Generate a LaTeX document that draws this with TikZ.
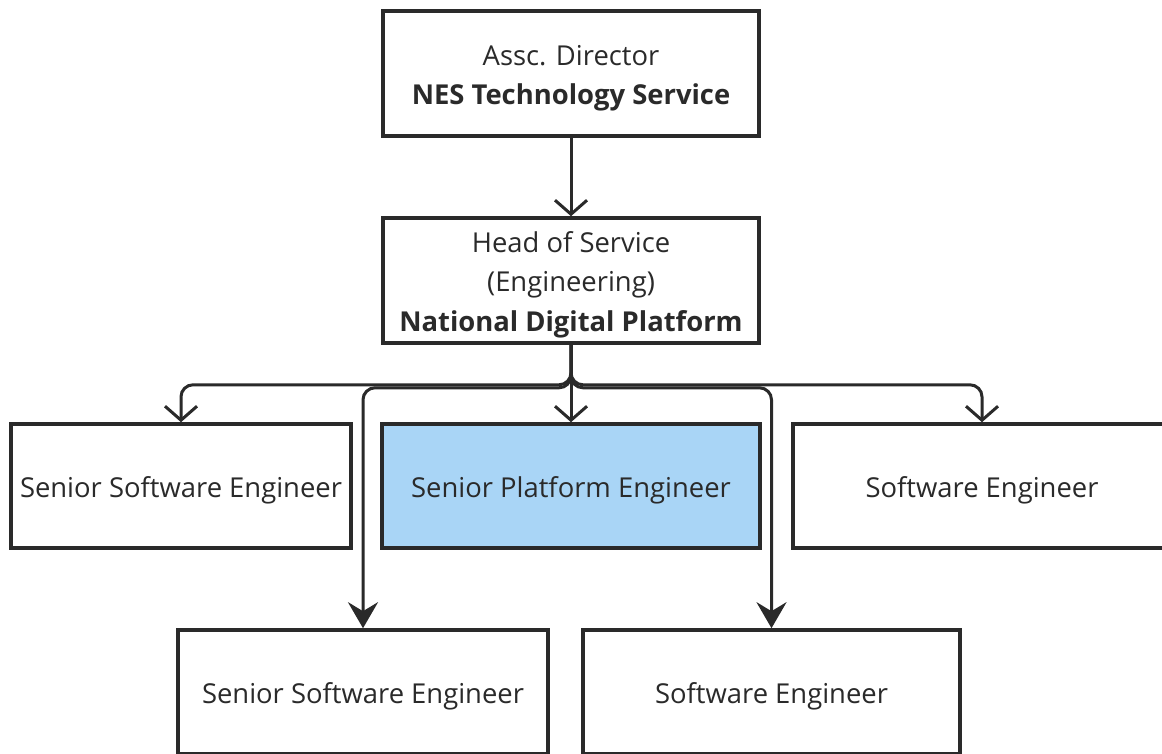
\documentclass[tikz,border=0pt]{standalone}
\usepackage{fontspec}
\setmainfont{Open Sans}
\usetikzlibrary{arrows.meta}
\definecolor{ln}{HTML}{2A2A2A}
\definecolor{hl}{HTML}{A9D5F6}
\tikzset{
  box/.style={draw=ln, line width=3.6pt, minimum height=124pt, inner sep=0pt},
  txt/.style={inner sep=0pt, align=center, text=ln, font=\fontsize{27.4}{39.5}\selectfont},
  conn/.style={draw=ln, line width=3pt, rounded corners=12pt, -{Straight Barb[length=14pt,width=32pt,line width=3pt]}},
  connf/.style={draw=ln, line width=3pt, rounded corners=12pt, -{Stealth[length=26pt,width=30pt,inset=9pt]}}
}
\begin{document}
\begin{tikzpicture}[x=1pt,y=-1pt]
\useasboundingbox (0,0) rectangle (1162,754);
\clip (0,0) rectangle (1162,754);
\fill[white] (0,0) rectangle (1162,754);
\node[box, minimum width=376pt, minimum height=125pt] (top) at (571,73.5) {};
\node[box, minimum width=376pt, minimum height=125pt] (head) at (571,280.5) {};
\node[box, minimum width=340pt] (s1) at (181,486) {};
\node[box, minimum width=378pt, fill=hl] (p) at (571,486) {};
\node[box, minimum width=378pt] (sw1) at (982,486) {};
\node[box, minimum width=370pt] (b1) at (363,692) {};
\node[box, minimum width=377pt] (b2) at (771.5,692) {};
\node[txt] (toptxt) at ([yshift=-4.5pt]top.center) {Assc. Director\\\textbf{NES Technology Service}};
\node[txt] (headtxt) at ([yshift=-4pt]head.center) {Head of Service\\(Engineering)\\\textbf{National Digital Platform}};
\node[txt] (s1txt) at ([yshift=-4pt]s1.center) {Senior Software Engineer};
\node[txt] (ptxt) at ([yshift=-4pt]p.center) {Senior Platform Engineer};
\node[txt] (sw1txt) at ([yshift=-4pt]sw1.center) {Software Engineer};
\node[txt] (b1txt) at ([yshift=-4pt]b1.center) {Senior Software Engineer};
\node[txt] (b2txt) at ([yshift=-4pt]b2.center) {Software Engineer};
\draw[conn] (top.south) -- (head.north);
\draw[conn] (head.south) -- (p.north);
\draw[conn] (head.south) -- ++(0,40) -| (s1.north);
\draw[conn] (head.south) -- ++(0,40) -| (sw1.north);
\draw[connf] (head.south) -- ++(0,43) -| (b1.north);
\draw[connf] (head.south) -- ++(0,43) -| (b2.north);
\end{tikzpicture}
\end{document}
